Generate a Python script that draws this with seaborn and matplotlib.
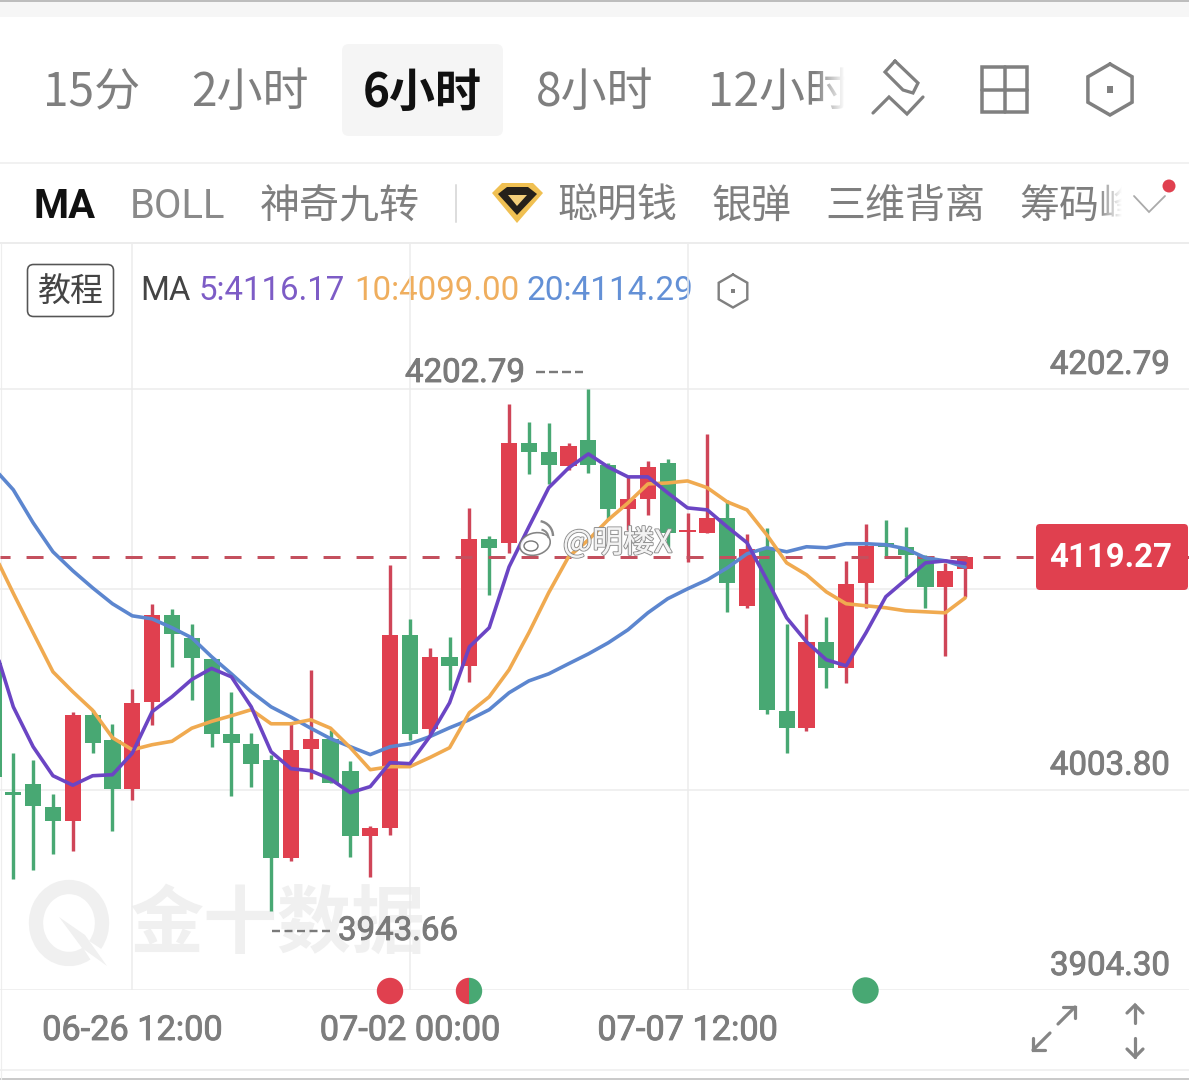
import numpy as np
import pandas as pd
import matplotlib
matplotlib.use("Agg")
import matplotlib.pyplot as plt
import matplotlib.patheffects as pe
from matplotlib.patches import FancyBboxPatch, Circle, Wedge, Polygon, Rectangle, Ellipse, Arc
import seaborn as sns
import logging
logging.getLogger("matplotlib.font_manager").setLevel(logging.ERROR)

# ---------- data ----------
opens = [4066.8,4002.6,4006.5,3995.3,3988.2,4041.0,4028.6,4004.3,4047.1,4090.3,4079.2,4068.5,4031.2,4026.6,4018.4,3970.0,4024.1,4029.1,4013.2,3980.7,3984.7,4080.7,4034.0,4069.8,4065.3,4128.3,4126.4,4176.0,4171.5,4164.5,4177.5,4165.0,4143.2,4148.2,4166.0,4131.8,4131.3,4138.8,4095.1,4123.4,4043.0,4034.5,4077.2,4064.3,4106.5,4126.4,4124.4,4119.9,4104.5,4113.4]
highs = [4072.0,4022.2,4018.4,4001.8,4042.5,4043.5,4036.5,4053.9,4095.8,4093.3,4086.0,4068.8,4052.4,4031.7,4021.2,4036.6,4063.3,4033.3,4018.2,3985.5,4115.4,4088.6,4074.2,4079.7,4143.7,4129.8,4195.3,4186.4,4185.9,4176.0,4202.8,4166.0,4159.1,4167.0,4168.0,4141.2,4180.4,4147.7,4130.8,4133.8,4086.2,4091.1,4089.6,4117.4,4135.8,4137.8,4134.3,4120.4,4116.4,4119.3]
lows = [4001.0,3959.6,3963.8,3971.8,3973.5,4022.0,3983.5,3998.8,4036.0,4064.5,4048.5,4025.1,4000.8,4005.3,3943.7,3968.6,4009.0,4007.0,3970.2,3960.3,3981.5,4028.6,4031.1,4053.4,4057.3,4100.6,4121.4,4160.5,4155.6,4162.5,4161.0,4137.8,4132.8,4140.2,4124.4,4116.9,4131.3,4092.1,4094.1,4041.5,4022.2,4033.0,4054.4,4056.8,4094.1,4118.9,4109.5,4094.1,4070.3,4099.6]
closes = [4010.2,4001.0,3995.7,3988.2,4041.0,4026.9,4004.3,4046.9,4090.3,4081.2,4069.3,4031.6,4027.0,4016.4,3970.0,4023.6,4029.1,4007.3,3980.7,3984.5,4080.7,4031.6,4069.8,4065.3,4128.3,4123.9,4176.0,4171.5,4165.0,4174.5,4165.0,4143.2,4148.2,4164.0,4131.3,4132.3,4138.8,4106.5,4123.4,4043.5,4034.5,4077.2,4064.3,4106.0,4124.9,4124.4,4120.4,4104.5,4112.5,4119.27]
ma5 = [4076.7,4044.9,4025.1,4010.7,4006.0,4010.7,4011.2,4021.9,4042.5,4049.9,4058.5,4064.0,4059.8,4044.9,4022.6,4014.2,4013.2,4009.0,4002.3,4005.3,4017.2,4016.7,4030.1,4046.9,4074.7,4084.2,4114.4,4134.3,4153.7,4163.5,4170.5,4164.0,4159.1,4159.1,4151.2,4143.7,4142.7,4134.3,4126.4,4108.0,4089.1,4077.2,4068.3,4065.3,4081.7,4099.6,4108.0,4116.4,4117.4,4116.17]
ma10 = [4121.6,4101.3,4081.7,4062.3,4052.4,4043.2,4029.6,4023.6,4026.1,4027.8,4034.3,4037.7,4040.5,4043.5,4036.5,4036.5,4038.5,4034.3,4024.6,4013.7,4015.2,4015.2,4019.7,4024.6,4042.0,4049.9,4063.3,4081.7,4101.6,4119.4,4127.8,4137.8,4146.2,4155.6,4156.1,4157.1,4153.7,4146.7,4142.7,4130.3,4116.4,4110.5,4102.0,4096.1,4095.1,4094.1,4092.6,4092.1,4091.6,4099.00]
ma20 = [4163.6,4152.7,4136.3,4121.9,4112.5,4104.0,4096.1,4090.1,4088.6,4084.2,4079.2,4069.8,4061.3,4052.4,4044.9,4039.8,4034.3,4029.1,4025.1,4021.2,4025.1,4026.6,4030.1,4034.5,4038.5,4043.5,4051.9,4057.8,4061.3,4066.3,4071.2,4076.7,4083.2,4091.6,4098.6,4103.5,4108.0,4113.9,4120.9,4123.9,4121.9,4124.4,4123.9,4125.9,4125.9,4125.4,4123.4,4118.9,4117.4,4114.29]
price_levels = [4202.79, 4103.30, 4003.80, 3904.30]
level_labels = ["4202.79", "", "4003.80", "3904.30"]
date_ticks = [6, 20, 34]
date_labels = ["06-26 12:00", "07-02 00:00", "07-07 12:00"]
first_index = -1
tabs = ["15分", "2小时", "6小时", "8小时", "12小时"]
indicators = ["神奇九转", "聪明钱", "银弹", "三维背离", "筹码峰"]

# ---------- style ----------
sns.set_theme(style="white")
CJK = ["Noto Sans CJK SC", "DejaVu Sans"]
NUM = ["Roboto", "DejaVu Sans"]
plt.rcParams["font.family"] = CJK
plt.rcParams["lines.scale_dashes"] = False
RED, GREEN = "#e0404f", "#48a873"
PURPLE, ORANGE, BLUE = "#6b45c4", "#f0aa50", "#5c86cf"
GRID = "#ececec"
W, H = 1189, 1080
PX = 72 / 100  # points per pixel
NUM_SIZE = 33
thick = [pe.withStroke(linewidth=0.9 * PX, foreground="#7d7d7d")]

fig = plt.figure(figsize=(W / 100, H / 100), dpi=100, facecolor="white")

def pixel_axes(z):
    a = fig.add_axes([0, 0, 1, 1], zorder=z)
    a.set_xlim(0, W); a.set_ylim(H, 0); a.axis("off"); a.patch.set_alpha(0)
    return a

bg = pixel_axes(0)
fg = pixel_axes(2)

# ---------- main chart ----------
ax = fig.add_axes([0, (H - 990) / H, 1, (990 - 243) / H], zorder=1)
ax.patch.set_alpha(0)
idx = np.arange(first_index, first_index + len(closes))
step, x0 = 19.83, 13.3
ax.set_xlim(-x0 / step, (W - x0) / step)
ax.set_ylim(3904.58, 4275.24)

# watermark behind
bg.text(130, 925, "金十数据", fontsize=74 * PX, fontweight="bold", color="#f0f0f0", va="center", ha="left", family=CJK)
bg.add_patch(Arc((69, 923), 66, 72, theta1=60, theta2=400, lw=11 * PX * 1.3, color="#f0f0f0"))
bg.add_patch(Polygon([[59, 917], [85, 935], [107, 966], [82, 948]], closed=True, color="#f0f0f0", lw=0))

o, h, l, c = map(np.array, (opens, highs, lows, closes))
up = c >= o
colors = np.where(up, RED, GREEN)
wick_colors = np.where(up, "#cf4558", GREEN)
ax.vlines(idx, l, h, colors=wick_colors, lw=3.4 * PX, zorder=2)
body_h = np.abs(c - o)
ax.bar(idx, np.maximum(body_h, 0.9), bottom=np.minimum(o, c), width=16.2 / step, color=colors, lw=0, zorder=3)

ax.axhline(closes[-1], color="#c4505e", lw=3 * PX, linestyle=(5, (17 * PX, 16 * PX)), zorder=4)

ma_df = pd.DataFrame({"idx": idx, "MA5": ma5, "MA10": ma10, "MA20": ma20}).melt("idx", var_name="ma", value_name="price")
sns.lineplot(data=ma_df, x="idx", y="price", hue="ma", hue_order=["MA20", "MA10", "MA5"],
             palette={"MA5": PURPLE, "MA10": ORANGE, "MA20": BLUE}, lw=3.6 * PX, legend=False,
             ax=ax, zorder=5, estimator=None)

ax.set_xticks(date_ticks, date_labels)
ax.set_yticks(price_levels, [""] * len(price_levels))
ax.set_xlabel(""); ax.set_ylabel("")
ax.grid(True, color=GRID, lw=1.5 * PX)
ax.set_axisbelow(True)
ax.tick_params(axis="x", length=0, pad=25 * PX, labelsize=34.3 * PX, labelcolor="#7d7d7d")
for t in ax.get_xticklabels():
    t.set_family(NUM)
    t.set_path_effects(thick)
ax.tick_params(axis="y", length=0)
for s in ax.spines.values():
    s.set_visible(False)
for v, s in zip(price_levels, level_labels):
    if s:
        a_ = ax.annotate(s, xy=(1170 / W, v), xycoords=("axes fraction", "data"), xytext=(0, 24 * PX),
                         textcoords="offset points", ha="right", va="center", fontsize=NUM_SIZE * PX,
                         color="#7d7d7d", family=NUM, zorder=6)
        a_.set_path_effects(thick)

# ---------- chrome ----------
def txt(a, x, y, s, size, color="#808080", ha="left", fam=CJK, **kw):
    return a.text(x, y, s, fontsize=size * PX, color=color, ha=ha, va="center", family=fam, **kw)

def poly(a, pts, color="#808080", lw=3, closed=False, **kw):
    arr = np.array(pts)
    if closed:
        arr = np.vstack([arr, arr[:1]])
    a.plot(arr[:, 0], arr[:, 1], color=color, lw=lw * PX, solid_joinstyle="miter", solid_capstyle="round", **kw)

# top bands
bg.add_patch(Rectangle((0, 0), W, 2, color="#bdbdbd", lw=0))
bg.add_patch(Rectangle((0, 2), W, 15, color="#f6f6f6", lw=0))
for y, col in [(163, "#eeeeee"), (243, "#e8e8e8"), (1070, "#eeeeee"), (1079, "#bdbdbd")]:
    bg.plot([0, W], [y, y], color=col, lw=1.6 * PX)
bg.plot([1, 1], [243, 1079], color="#eeeeee", lw=1.2 * PX)

# tabs
bg.add_patch(FancyBboxPatch((342, 44), 161, 92, boxstyle="round,pad=0,rounding_size=7", lw=0, fc="#f5f5f5"))
tab_x = [43, 191, 363, 536, 708]
for s, x, active in zip(tabs, tab_x, [0, 0, 1, 0, 0]):
    txt(bg, x, 93, s, 46, color="#111111" if active else "#7f7f7f", fontweight="bold" if active else "light")

# row 2
txt(bg, 34, 207, "MA", 40, color="#111111", fam=NUM, fontweight="bold")
txt(bg, 130, 207, "BOLL", 40, color="#8a8a8a", fam=NUM)
for s, x in zip(indicators, [260, 557, 712, 825, 1019]):
    txt(bg, x, 207, s, 40, color="#7f7f7f", fontweight="light")
bg.plot([456, 456], [185, 222], color="#dddddd", lw=2 * PX)

def fade(x1, x2, x3, y1, y2):
    grad = np.ones((1, 64, 4)); grad[..., 3] = np.linspace(0, 1, 64)
    bg.imshow(grad, extent=(x1, x2, y2, y1), aspect="auto", zorder=5)
    bg.add_patch(Rectangle((x2, y1), x3 - x2, y2 - y1, color="white", lw=0, zorder=5))
    bg.set_xlim(0, W); bg.set_ylim(H, 0)

fade(815, 845, 868, 60, 125)
fade(1098, 1122, 1145, 180, 232)

# diamond
bg.add_patch(Polygon([[492, 193], [502, 183], [533, 183], [543, 193], [517, 223]], color="#f0c052", lw=0, zorder=6))
bg.add_patch(Polygon([[498, 194], [507, 187], [528, 187], [537, 194], [517, 215]], color="#26211a", lw=0, zorder=6))
bg.add_patch(Polygon([[508, 195], [527, 195], [517, 206]], color="#f5d07a", lw=0, zorder=6))

# icons top right
poly(bg, [(895, 61), (918, 83), (913, 93), (903, 90), (885, 72)], closed=True, lw=3.2, zorder=6)
poly(bg, [(873, 113), (889, 97), (907, 114), (923, 97)], lw=3.2, zorder=6)
bg.add_patch(Rectangle((982, 67), 45, 45, fc="none", ec="#808080", lw=3.5 * PX, zorder=6))
bg.plot([1004.5, 1004.5], [67, 112], color="#808080", lw=3.5 * PX, zorder=6)
bg.plot([982, 1027], [89.5, 89.5], color="#808080", lw=3.5 * PX, zorder=6)

def hexagon(a, cx, cy, r, lw):
    ang = np.deg2rad(np.arange(-90, 270, 60))
    poly(a, np.c_[cx + r * np.cos(ang), cy + r * np.sin(ang)], closed=True, lw=lw, zorder=6)
    a.add_patch(Rectangle((cx - r * 0.12, cy - r * 0.12), r * 0.24, r * 0.24, color="#808080", lw=0, zorder=6))

hexagon(bg, 1110, 89.5, 25.5, 3.5)
hexagon(bg, 733, 291, 16.5, 2.4)
poly(bg, [(1134, 196), (1149, 212), (1165, 196)], color="#aaaaaa", lw=1.8, zorder=6)
bg.add_patch(Circle((1169, 186), 6.5, color=RED, lw=0, zorder=7))

# row 3
bg.add_patch(FancyBboxPatch((27.5, 264.5), 86, 52, boxstyle="round,pad=0,rounding_size=6", fc="white", ec="#555555", lw=1.6 * PX))
txt(bg, 71, 292, "教程", 33, color="#444444", ha="center")
txt(bg, 140, 291, "MA", 33, color="#444444", fam=NUM)
txt(bg, 199, 291, "5:4116.17", 33, color="#7d5cc6", fam=NUM)
txt(bg, 354, 291, "10:4099.00", 33, color="#efae5e", fam=NUM)
txt(bg, 526, 291, "20:4114.29", 33.4, color="#6390d6", fam=NUM)

# high / low notes
t1 = txt(fg, 405, 373, "4202.79", NUM_SIZE, color="#7a7a7a", fam=NUM); t1.set_path_effects(thick)
fg.plot([536, 583], [372, 372], color="#7a7a7a", lw=2.4 * PX, linestyle=(0, (9 * PX, 4 * PX)))
t2 = txt(fg, 338, 931, "3943.66", NUM_SIZE, color="#7a7a7a", fam=NUM); t2.set_path_effects(thick)
fg.plot([272, 331], [931, 931], color="#7a7a7a", lw=2.4 * PX, linestyle=(0, (8 * PX, 4.5 * PX)))

# weibo mark
halo = [pe.withStroke(linewidth=2.2 * PX, foreground="#8f8f8f")]
fg.add_patch(Ellipse((535, 544), 31, 22, angle=-15, fc="white", ec="#777777", lw=1.6 * PX, alpha=0.9))
fg.add_patch(Ellipse((531, 546), 14, 10, fc="none", ec="#777777", lw=1.4 * PX))
fg.add_patch(Arc((538, 536), 30, 30, theta1=-80, theta2=0, ec="#888888", lw=2.4 * PX))
fg.add_patch(Arc((540, 538), 17, 17, theta1=-80, theta2=0, ec="#888888", lw=2 * PX))
t = txt(fg, 563, 543, "@明楼X", 31, color="#f4f4f4", fam=CJK, alpha=0.95)
t.set_path_effects(halo + [pe.Normal()])

# price box
fg.add_patch(FancyBboxPatch((1036, 524), 152, 66, boxstyle="round,pad=0,rounding_size=4", fc=RED, lw=0))
txt(fg, 1111, 558, f"{closes[-1]:.2f}", NUM_SIZE, color="white", ha="center", fam=NUM, fontweight="bold")

# event dots
fg.add_patch(Circle((390, 991), 13.2, color=RED, lw=0))
fg.add_patch(Wedge((469, 991), 13.2, 90, 270, color=RED, lw=0))
fg.add_patch(Wedge((469, 991), 13.2, -90, 90, color=GREEN, lw=0))
fg.add_patch(Circle((865.5, 990.5), 13.2, color=GREEN, lw=0))

# bottom right arrows
for seg in ([(1058, 1024), (1075, 1007)], [(1063, 1007), (1075, 1007), (1075, 1018)],
            [(1050, 1033), (1033, 1050)], [(1033, 1038), (1033, 1050), (1045, 1050)],
            [(1135, 1023), (1135, 1005)], [(1127, 1013), (1135, 1005), (1143, 1013)],
            [(1135, 1038), (1135, 1057)], [(1127, 1049), (1135, 1057), (1143, 1049)]):
    poly(fg, seg, color="#858585", lw=3.2)

fig.savefig("out.png", dpi=100)
